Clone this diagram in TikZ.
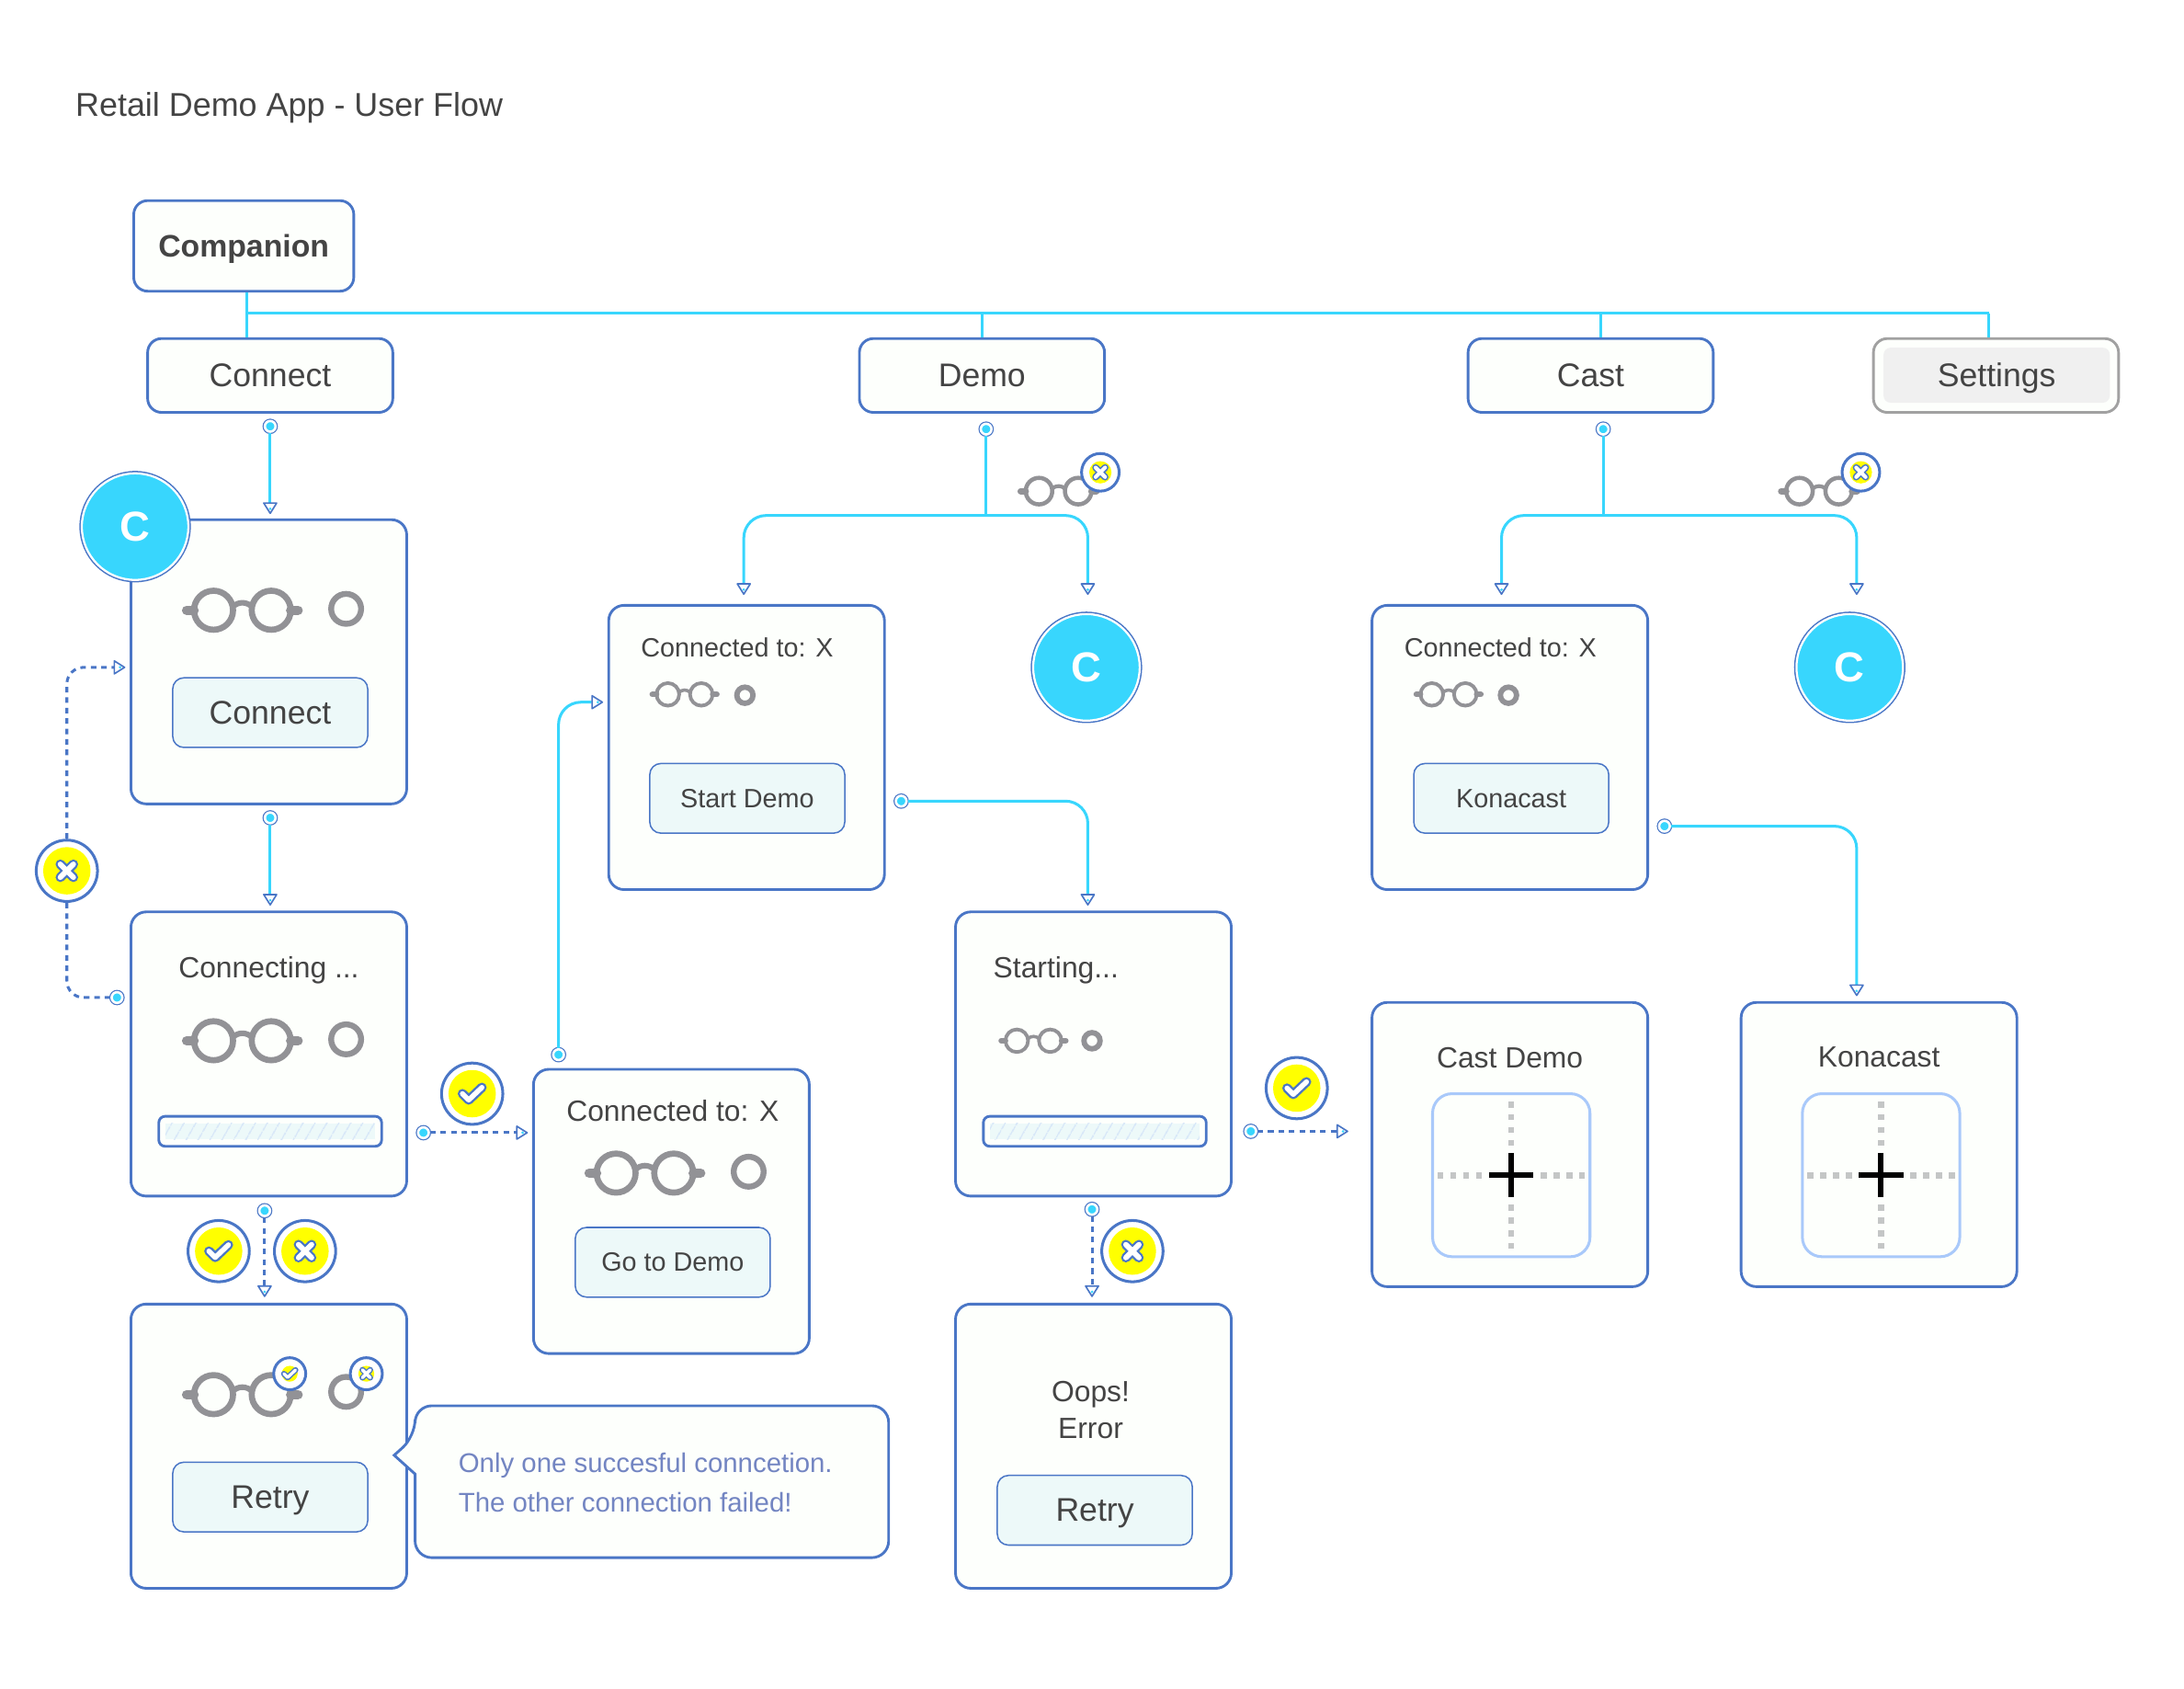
\documentclass[tikz,border=0pt]{standalone}
\usepackage{fontspec}
\setmainfont{Liberation Sans}
\usetikzlibrary{arrows.meta,patterns.meta,decorations.markings}
\definecolor{blueline}{HTML}{4A76C6}
\definecolor{cyanline}{HTML}{38D6FD}
\definecolor{glassgray}{HTML}{929296}
\definecolor{inktext}{HTML}{444444}
\definecolor{notetext}{HTML}{7385C2}
\definecolor{btnfill}{HTML}{EDF9F9}
\definecolor{boxfill}{HTML}{FDFFFC}
\definecolor{aimblue}{HTML}{A9C9FA}
\definecolor{aimdots}{HTML}{C4C6C6}
\definecolor{barhatch}{HTML}{D6E6F8}
\definecolor{badgefill}{HTML}{FFFF00}
\tikzset{
  top/.style={draw=blueline,fill=boxfill,line width=1.9pt,rounded corners=10pt,minimum width=176pt,minimum height=53pt,inner sep=0pt,text=inktext,text depth=0pt,font=\fontsize{23.5}{27}\selectfont},
  screen/.style={draw=blueline,fill=boxfill,line width=1.9pt,rounded corners=11pt,minimum width=198pt,minimum height=204pt,inner sep=0pt},
  btn/.style={draw=blueline,fill=btnfill,line width=1pt,rounded corners=8pt,minimum width=140pt,minimum height=50pt,inner sep=0pt,text=inktext,text depth=0pt},
  lab/.style={text=inktext,inner sep=0pt},
  big/.style={font=\fontsize{23.5}{27}\selectfont},
  mid/.style={font=\fontsize{21}{26}\selectfont},
  small/.style={font=\fontsize{19}{24}\selectfont},
  dot/.style={circle,minimum size=7.7pt,inner sep=0pt,outer sep=1pt,fill=cyanline,draw=white,line width=1.7pt,preaction={draw=blueline,line width=3.3pt}},
  cc/.style={circle,minimum size=76.5pt,inner sep=0pt,fill=cyanline,draw=white,line width=1.5pt,preaction={draw=blueline,line width=3.5pt},text=white,font=\fontsize{30}{36}\selectfont\bfseries},
  flowtip/.style={-{Triangle[color=blueline,fill=white,length=9pt,width=11pt,line width=1.1pt,round]},
    decoration={markings,mark=at position -3.8pt with {\fill[cyanline] (0pt,0pt) circle (1pt);}},postaction={decorate}},
  cyanflow/.style={draw=cyanline,line width=2pt,flowtip},
  dashflow/.style={draw=blueline,line width=2pt,dash pattern=on 4pt off 3.5pt,flowtip},
  dashplain/.style={draw=blueline,line width=2pt,dash pattern=on 4pt off 3.5pt},
  tree/.style={draw=cyanline,line width=2pt},
  lensdot/.style={circle,draw=glassgray,inner sep=0pt},
  bar/.style={draw=blueline,line width=1.9pt,rounded corners=4.5pt,minimum width=160pt,minimum height=21.5pt,inner sep=0pt},
  hatch/.style={minimum width=150.5pt,minimum height=11.8pt,inner sep=0pt,preaction={fill=btnfill},pattern={Lines[angle=60,distance=7.4pt,line width=1pt]},pattern color=barhatch},
  pics/specs/.style={code={
    \begin{scope}[scale=#1]
    \draw[glassgray,line width=#1*4.4pt] (-20.7,0) circle (14) (20.7,0) circle (14);
    \draw[glassgray,line width=#1*6.8pt,line cap=round] (-40,0) -- (-34.7,0) (34.7,0) -- (40,0);
    \draw[glassgray,line width=#1*4pt] (-7.5,-2) .. controls (-3,-6.5) and (3,-6.5) .. (7.5,-2);
    \end{scope}}},
  pics/nobadge/.style n args={3}{code={
    \node[circle,draw=blueline,fill=white,line width=2pt,minimum size=#1*2pt,inner sep=0pt] (-ring) at (0,0) {};
    \fill[badgefill] (0,0) circle (#2);
    \begin{scope}[scale=#3,line cap=round]
    \draw[blueline,line width=#3*6.8pt] (-4.7,-4.7) -- (4.7,4.7) (-4.7,4.7) -- (4.7,-4.7);
    \draw[white,line width=#3*3.8pt] (-4.7,-4.7) -- (4.7,4.7) (-4.7,4.7) -- (4.7,-4.7);
    \end{scope}}},
  pics/yesbadge/.style n args={3}{code={
    \node[circle,draw=blueline,fill=white,line width=2pt,minimum size=#1*2pt,inner sep=0pt] (-ring) at (0,0) {};
    \fill[badgefill] (0,0) circle (#2);
    \begin{scope}[scale=#3,line cap=round,line join=round]
    \draw[blueline,line width=#3*6.8pt] (-7,0) -- (-2.5,4.5) -- (7,-4.5);
    \draw[white,line width=#3*3.6pt] (-7,0) -- (-2.5,4.5) -- (7,-4.5);
    \end{scope}}},
  pics/aim/.style={code={
    \node[draw=aimblue,line width=2pt,rounded corners=14pt,minimum width=113pt,minimum height=117pt,inner sep=0pt] (-box) at (0,0) {};
    \draw[aimdots,line width=4.4pt,dash pattern=on 4.4pt off 4.8pt] (0,-53) -- (0,-20.7) (0,53) -- (0,20.7) (-53,0) -- (-20.7,0) (53,0) -- (20.7,0);
    \draw[black,line width=4pt] (-16,0) -- (16,0) (0,-16) -- (0,16);}}
}
\begin{document}
\begin{tikzpicture}[x=1pt,y=-1pt]
\useasboundingbox (0,0) rectangle (1568,1212);

\node[lab,anchor=west,text depth=0pt,font=\fontsize{23.7}{27}\selectfont] (title) at (54,75) {Retail Demo App - User Flow};

\node[top,minimum width=158pt,minimum height=65pt,font=\fontsize{22.3}{27}\selectfont\bfseries] (comp) at (175,176.5) {Companion};
\node[top] (conn) at (194,269.5) {Connect};
\node[top] (demo) at (705,269.5) {Demo};
\node[top] (cast) at (1142,269.5) {Cast};
\node[top,draw=black!37] (sett) at (1433,269.5) {};
\node[fill=black!6,rounded corners=5pt,minimum width=162.4pt,minimum height=39.5pt,inner sep=0pt,text=inktext,text depth=0pt,font=\fontsize{23.5}{27}\selectfont] (settin) at (1433.5,269.3) {Settings};

\coordinate (t0) at (177,225);
\coordinate (t1) at (705,225);
\coordinate (t2) at (1149,225);
\coordinate (t3) at (1428,225);
\draw[tree] (t0 |- comp.south) -- (t0 |- conn.north);
\draw[tree] (t0) -- (t3);
\draw[tree] (t1) -- (t1 |- demo.north);
\draw[tree] (t2) -- (t2 |- cast.north);
\draw[tree] (t3) -- (t3 |- sett.north);

\node[screen] (s1) at (193,475) {};
\node[screen] (s2) at (193,756.5) {};
\node[screen] (s3) at (193,1038) {};
\node[screen] (s4) at (482,869.5) {};
\node[screen] (s5) at (536,536.5) {};
\node[screen] (s6) at (785,756.5) {};
\node[screen] (s7) at (785,1038) {};
\node[screen] (s8) at (1084,536.5) {};
\node[screen] (s9) at (1084,821.5) {};
\node[screen] (s10) at (1349,821.5) {};

\node[cc] (c1) at (97,378) {C};
\node[cc] (c2) at (780,479) {C};
\node[cc] (c3) at (1328,479) {C};

\node[btn,big] (b1) at (194,511.5) {Connect};
\node[btn,small] (b5) at (536.5,573) {Start Demo};
\node[btn,small] (b8) at (1085,573) {Konacast};
\node[btn,small] (b4) at (483,906) {Go to Demo};
\node[btn,big] (b3) at (194,1074.5) {Retry};
\node[btn,big] (b7) at (786,1084) {Retry};

\node[lab,mid,text depth=0pt] (l2) at (193,694) {Connecting ...};
\node[lab,mid] (l4) at (483,797) {Connected to: X};
\node[lab,small,anchor=west] (l5) at (460,465) {Connected to: X};
\node[lab,small,anchor=west] (l8) at (1008,465) {Connected to: X};
\node[lab,mid,anchor=west,text depth=0pt] (l6) at (713,694) {Starting...};
\node[lab,mid,align=center] (l7) at (783,1012) {Oops!\\Error};
\node[lab,mid] (l9) at (1084,759) {Cast Demo};
\node[lab,mid] (l10) at (1349,759) {Konacast};

\node[bar] (p2) at (194,812) {};
\node[hatch] (q2) at (194,812) {};
\node[bar] (p6) at (786,812) {};
\node[hatch] (q6) at (786,812) {};

\pic at (174,438) {specs=1};
\pic at (174,747) {specs=1};
\pic at (174,1001) {specs=1};
\pic at (463,842) {specs=1};
\pic at (491.5,498.4) {specs=.58};
\pic at (742,747) {specs=.58};
\pic at (1040,498.4) {specs=.58};
\pic at (760,352.5) {specs=.68};
\pic at (1306,352.5) {specs=.68};

\node[lensdot,line width=4.2pt,minimum size=21.5pt] (r1) at (248.5,437) {};
\node[lensdot,line width=4.2pt,minimum size=21.5pt] (r2) at (248.5,746) {};
\node[lensdot,line width=4.2pt,minimum size=21.5pt] (r3) at (248.5,999) {};
\node[lensdot,line width=4.2pt,minimum size=21.5pt] (r4) at (537.5,841) {};
\node[lensdot,line width=3.85pt,minimum size=11.6pt] (r5) at (534.8,499) {};
\node[lensdot,line width=3.85pt,minimum size=11.6pt] (r6) at (784,747) {};
\node[lensdot,line width=3.85pt,minimum size=11.6pt] (r8) at (1083,499) {};

\pic (y3) at (208,986) {yesbadge={11.5}{5.7}{.6}};
\pic (x3) at (263,986) {nobadge={11.5}{5.7}{.6}};
\pic (x5) at (790,339) {nobadge={13.5}{8}{.72}};
\pic (x8) at (1336,339) {nobadge={13.5}{8}{.72}};
\pic (x1) at (48,625) {nobadge={22}{17}{1}};
\pic (y1) at (157,898) {yesbadge={22}{17}{1}};
\pic (x2) at (219,898) {nobadge={22}{17}{1}};
\pic (y2) at (339,785) {yesbadge={22}{17}{1}};
\pic (y6) at (931,781) {yesbadge={22}{17}{1}};
\pic (x7) at (813,898) {nobadge={22}{17}{1}};

\pic (a9) at (1085,843.5) {aim};
\pic (a10) at (1350.5,843.5) {aim};

\draw[draw=blueline,fill=boxfill,line width=1.9pt,rounded corners=12pt] (298,1058) -- (298,1118) -- (638,1118) -- (638,1009) -- (298,1009) -- (298,1031) [sharp corners] -- (283,1044.5) -- cycle;
\node[lab,anchor=west,align=left,text=notetext,font=\fontsize{19.4}{28}\selectfont] (n1) at (329,1064) {Only one succesful conncetion.\\The other connection failed!};

\node[dot] (d1) at (194,306) {};
\coordinate (e1) at (194,369);
\draw[cyanflow] (d1) -- (e1);

\node[dot] (d2) at (194,587) {};
\coordinate (e2) at (194,650);
\draw[cyanflow] (d2) -- (e2);

\node[dot] (d3) at (708,308) {};
\coordinate (j3) at (708,370);
\coordinate (e3) at (534,427);
\coordinate (e4) at (781,427);
\draw[tree] (d3) -- (j3);
\draw[cyanflow,rounded corners=16pt] (j3) -| (e3);
\draw[cyanflow,rounded corners=16pt] (j3) -| (e4);

\node[dot] (d4) at (1151,308) {};
\coordinate (j4) at (1151,370);
\coordinate (e5) at (1078,427);
\coordinate (e6) at (1333,427);
\draw[tree] (d4) -- (j4);
\draw[cyanflow,rounded corners=16pt] (j4) -| (e5);
\draw[cyanflow,rounded corners=16pt] (j4) -| (e6);

\node[dot] (d5) at (647,575) {};
\coordinate (e7) at (781,650);
\draw[cyanflow,rounded corners=16pt] (d5) -| (e7);

\node[dot] (d6) at (1195,593) {};
\coordinate (e8) at (1333,715);
\draw[cyanflow,rounded corners=16pt] (d6) -| (e8);

\node[dot] (d7) at (401,757) {};
\coordinate (e9) at (433,504);
\draw[cyanflow,rounded corners=16pt] (d7) |- (e9);

\coordinate (e10) at (90,479);
\draw[dashflow,rounded corners=12pt] (x1-ring.north) |- (e10);
\node[dot] (d8) at (84,716) {};
\draw[dashplain,rounded corners=12pt] (x1-ring.south) |- (d8);

\node[dot] (d9) at (304,813) {};
\coordinate (e11) at (379,813);
\draw[dashflow] (d9) -- (e11);

\node[dot] (d10) at (898,812) {};
\coordinate (e12) at (968,812);
\draw[dashflow] (d10) -- (e12);

\node[dot] (d11) at (190,869) {};
\coordinate (e13) at (190,931);
\draw[dashflow] (d11) -- (e13);

\node[dot] (d12) at (784,868) {};
\coordinate (e14) at (784,931);
\draw[dashflow] (d12) -- (e14);
\end{tikzpicture}
\end{document}
